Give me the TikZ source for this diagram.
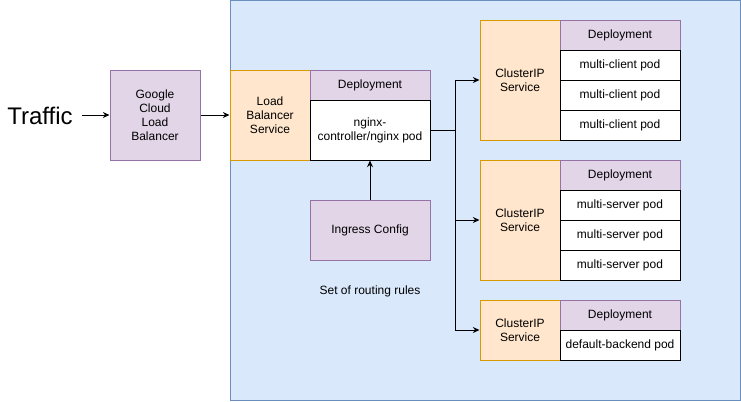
\documentclass[tikz,border=0pt]{standalone}
\usepackage{fontspec}
\setmainfont{Liberation Sans}
\usetikzlibrary{arrows.meta}

\tikzset{
  box/.style={draw, line width=0.75pt, inner sep=1pt, align=center, font=\fontsize{9}{10.5}\selectfont},
  purplebox/.style={box, fill=boxpurple, draw=linepurple},
  orangebox/.style={box, fill=boxorange, draw=lineorange},
  podbox/.style={box, fill=white, draw=black, minimum width=90pt, minimum height=22.5pt},
  headbox/.style={purplebox, minimum width=90pt, minimum height=22.5pt},
  link/.style={line width=0.75pt, -{Stealth[length=5pt,width=4.5pt]}}
}
\definecolor{clusterfill}{HTML}{DAE8FC}
\definecolor{clusterline}{HTML}{6C8EBF}
\definecolor{boxpurple}{HTML}{E1D5E7}
\definecolor{linepurple}{HTML}{9673A6}
\definecolor{boxorange}{HTML}{FFE6CC}
\definecolor{lineorange}{HTML}{D79B00}

\begin{document}
\begin{tikzpicture}[x=0.75pt, y=-0.75pt]
  \useasboundingbox (0,0) rectangle (741,401);
  % cluster
  \filldraw[fill=clusterfill, draw=clusterline, line width=0.75pt] (230.5,0.5) rectangle (740,400);

  \node[font=\fontsize{18}{20}\selectfont] (traffic) at (40,116) {Traffic};
  \node[purplebox, minimum width=67.5pt, minimum height=67.5pt] (gclb) at (155,115) {Google\\Cloud\\Load\\Balancer};
  \node[orangebox, minimum width=60pt, minimum height=67.5pt] (lbsvc) at (270,115) {Load\\Balancer\\Service};
  \node[headbox] (nginxdep) at (370,85) {Deployment};
  \node[podbox, minimum height=45pt] (nginxpod) at (370,130) {nginx-\\controller/nginx pod};
  \node[purplebox, minimum width=90pt, minimum height=45pt] (ingress) at (370,230) {Ingress Config};
  \node[font=\fontsize{9}{10.5}\selectfont] (rules) at (370,291) {Set of routing rules};

  % client services
  \node[orangebox, minimum width=60pt, minimum height=90pt] (clientsvc) at (520,80) {ClusterIP\\Service};
  \node[headbox] (clientdep) at (620,35) {Deployment};
  \node[podbox] (clientpoda) at (620,65) {multi-client pod};
  \node[podbox] (clientpodb) at (620,95) {multi-client pod};
  \node[podbox] (clientpodc) at (620,125) {multi-client pod};

  % server services
  \node[orangebox, minimum width=60pt, minimum height=90pt] (serversvc) at (520,220) {ClusterIP\\Service};
  \node[headbox] (serverdep) at (620,175) {Deployment};
  \node[podbox] (serverpoda) at (620,205) {multi-server pod};
  \node[podbox] (serverpodb) at (620,235) {multi-server pod};
  \node[podbox] (serverpodc) at (620,265) {multi-server pod};

  % default backend
  \node[orangebox, minimum width=60pt, minimum height=45pt] (backsvc) at (520,330) {ClusterIP\\Service};
  \node[headbox] (backdep) at (620,315) {Deployment};
  \node[podbox] (backpod) at (620,345) {default-backend pod};

  \coordinate (split) at (455,130);

  \draw[link] (traffic.east) ++(5,-1) coordinate (trafficend) (trafficend) -- (gclb.west);
  \draw[link] (gclb.east) -- (lbsvc.west);
  \draw[link] (ingress.north) -- (nginxpod.south);
  \draw[line width=0.75pt] (nginxpod.east) -- (split);
  \draw[link] (split) |- (clientsvc.west);
  \draw[link] (split) |- (serversvc.west);
  \draw[link] (split) |- (backsvc.west);
\end{tikzpicture}
\end{document}
